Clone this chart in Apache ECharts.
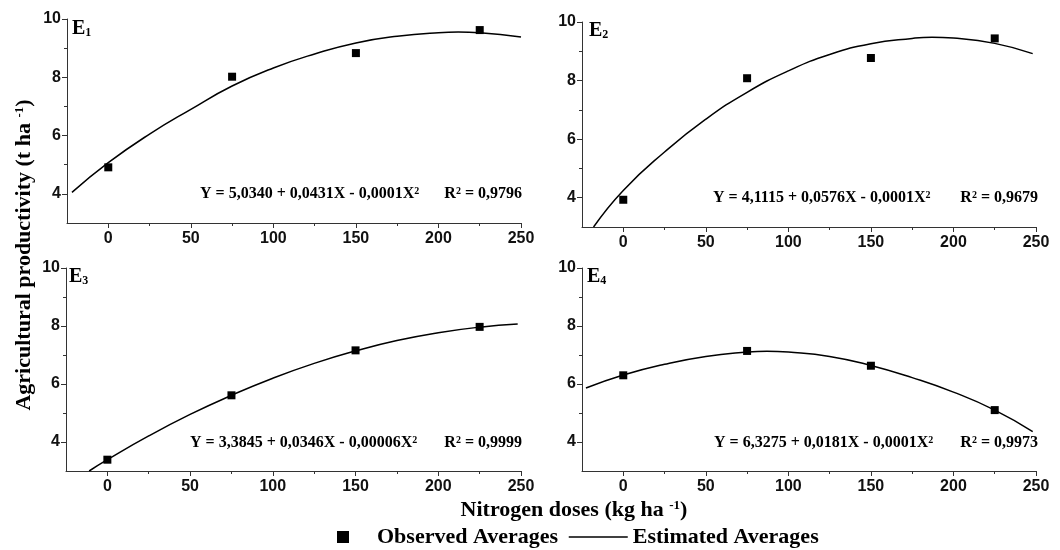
<!DOCTYPE html>
<html><head><meta charset="utf-8">
<script src="https://cdn.jsdelivr.net/npm/echarts@6/dist/echarts.min.js"></script>
<style>html,body{margin:0;padding:0;background:#fff}#c{width:1060px;height:550px}</style>
</head><body><div id="c"></div>
<script>
// ---------- data ----------
const doses = [0, 75, 150, 225];
const observedE1 = [4.91, 8.02, 8.83, 9.62];
const observedE2 = [3.93, 8.08, 8.77, 9.44];
const observedE3 = [3.39, 5.61, 7.16, 7.97];
const observedE4 = [6.30, 7.14, 6.63, 5.10];

const curveXE1 = [-22, 0, 25, 50, 75, 100, 125, 150, 175, 200, 212, 225, 250];
const curveYE1 = [4.05, 5.07, 6.05, 6.9, 7.7, 8.32, 8.8, 9.18, 9.41, 9.53, 9.55, 9.53, 9.38];
const curveXE2 = [-18, 0, 25, 50, 75, 100, 125, 150, 175, 187, 200, 225, 248];
const curveYE2 = [3.0, 4.25, 5.56, 6.68, 7.6, 8.33, 8.89, 9.26, 9.44, 9.48, 9.45, 9.27, 8.92];
const curveXE3 = [-11, 0, 25, 50, 75, 100, 125, 150, 175, 200, 225, 248];
const curveYE3 = [3.0, 3.39, 4.21, 4.95, 5.61, 6.2, 6.71, 7.14, 7.5, 7.77, 7.96, 8.07];
const curveXE4 = [-22.6, 0, 25, 50, 75, 87, 100, 125, 150, 175, 200, 225, 248];
const curveYE4 = [5.86, 6.31, 6.68, 6.95, 7.1, 7.13, 7.1, 6.95, 6.64, 6.22, 5.72, 5.1, 4.36];

const xTicks = [0, 50, 100, 150, 200, 250];
const xMinorTicks = [25, 75, 125, 175, 225];
const yTicks = [4, 6, 8, 10];
const yMinorTicks = [5, 7, 9];

const panelSubs = ['1', '2', '3', '4'];
const equations = [
  'Y = 5,0340 + 0,0431X - 0,0001X',
  'Y = 4,1115 + 0,0576X - 0,0001X',
  'Y = 3,3845 + 0,0346X - 0,00006X',
  'Y = 6,3275 + 0,0181X - 0,0001X'
];
const r2Values = ['0,9796', '0,9679', '0,9999', '0,9973'];
const seriesObserved = 'Observed Averages';
const seriesEstimated = 'Estimated Averages';
const yTitle = 'Agricultural productivity (t ha ';
const xTitle = 'Nitrogen doses (kg ha ';

// ---------- layout ----------
const grids = [
  {left: 67, top: 19, width: 454, height: 204},
  {left: 582, top: 22, width: 454, height: 205},
  {left: 66, top: 268, width: 455, height: 203},
  {left: 582, top: 268, width: 454, height: 203}
];
const eqPos = [
  {x: 200, rx: 522, y: 194},
  {x: 713, rx: 1038, y: 198},
  {x: 190, rx: 522, y: 443},
  {x: 714, rx: 1038, y: 443}
];
const labelPos = [
  {x: 72, y: 29}, {x: 589, y: 31}, {x: 69, y: 277}, {x: 587, y: 277}
];

const observed = [observedE1, observedE2, observedE3, observedE4];
const curvesX = [curveXE1, curveXE2, curveXE3, curveXE4];
const curvesY = [curveYE1, curveYE2, curveYE3, curveYE4];

const AX = '#333';
const sans = '"Liberation Sans", Arial, sans-serif';
const serif = '"Liberation Serif", "Times New Roman", serif';

const xAxes = [], yAxes = [], series = [];
grids.forEach((g, i) => {
  xAxes.push({
    type: 'value', gridIndex: i, min: -25, max: 250, position: 'bottom',
    axisLine: {show: true, onZero: false, lineStyle: {color: AX, width: 1}},
    axisTick: {show: true, length: 5, customValues: xTicks, lineStyle: {color: AX}},
    axisLabel: {show: true, customValues: xTicks, fontFamily: sans, fontWeight: 'bold', fontSize: 16, color: '#111', margin: 8},
    splitLine: {show: false}
  });
  xAxes.push({
    type: 'value', gridIndex: i, min: -25, max: 250, position: 'bottom',
    axisLine: {show: false, onZero: false},
    axisTick: {show: true, length: 3, customValues: xMinorTicks, lineStyle: {color: AX}},
    axisLabel: {show: false}, splitLine: {show: false}
  });
  yAxes.push({
    type: 'value', gridIndex: i, min: 3, max: 10, position: 'left',
    axisLine: {show: true, onZero: false, lineStyle: {color: AX, width: 1}},
    axisTick: {show: true, length: 5, customValues: yTicks, lineStyle: {color: AX}},
    axisLabel: {show: true, customValues: yTicks, fontFamily: sans, fontWeight: 'bold', fontSize: 16, color: '#111', margin: 6},
    splitLine: {show: false}
  });
  yAxes.push({
    type: 'value', gridIndex: i, min: 3, max: 10, position: 'left', offset: 0,
    axisLine: {show: false, onZero: false},
    axisTick: {show: true, length: 3, customValues: yMinorTicks, lineStyle: {color: AX}},
    axisLabel: {show: false}, splitLine: {show: false}
  });
  series.push({
    name: seriesEstimated, type: 'line', xAxisIndex: 2 * i, yAxisIndex: 2 * i,
    data: curvesX[i].map((x, k) => [x, curvesY[i][k]]),
    smooth: true, symbol: 'none', showSymbol: false,
    lineStyle: {color: '#000', width: 1.5}, itemStyle: {color: '#000'},
    silent: true, z: 2
  });
  series.push({
    name: seriesObserved, type: 'scatter', xAxisIndex: 2 * i, yAxisIndex: 2 * i,
    data: doses.map((d, k) => [d, observed[i][k]]),
    symbol: 'rect', symbolSize: 8, itemStyle: {color: '#000', opacity: 1}, z: 3
  });
});

const sup = {font: 'bold 10px ' + serif, verticalAlign: 'top', lineHeight: 10, fill: '#000'};
const graphics = [];
grids.forEach((g, i) => {
  graphics.push({
    type: 'text', x: eqPos[i].x, y: eqPos[i].y, silent: true,
    style: {
      text: equations[i] + '{sup|2}',
      font: 'bold 16px ' + serif, fill: '#000',
      align: 'left', verticalAlign: 'middle', textAlign: 'left', textVerticalAlign: 'middle',
      rich: {sup: sup}
    }
  });
  graphics.push({
    type: 'text', x: eqPos[i].rx, y: eqPos[i].y, silent: true,
    style: {
      text: 'R{sup|2} = ' + r2Values[i],
      font: 'bold 16px ' + serif, fill: '#000',
      align: 'right', verticalAlign: 'middle', textAlign: 'right', textVerticalAlign: 'middle',
      rich: {sup: sup}
    }
  });
  graphics.push({
    type: 'text', x: labelPos[i].x, y: labelPos[i].y, silent: true,
    style: {
      text: 'E{sub|' + panelSubs[i] + '}',
      font: 'bold 20px ' + serif, fill: '#000',
      align: 'left', verticalAlign: 'middle', textAlign: 'left', textVerticalAlign: 'middle',
      rich: {sub: {font: 'bold 12px ' + serif, verticalAlign: 'bottom', lineHeight: 12, fill: '#000'}}
    }
  });
});
const supBig = {font: 'bold 13px ' + serif, verticalAlign: 'top', lineHeight: 13, fill: '#000'};
graphics.push({
  type: 'text', x: 24, y: 255, rotation: Math.PI / 2, silent: true,
  style: {
    text: yTitle + '{sup|-1}' + ')',
    font: 'bold 22px ' + serif, fill: '#000',
    align: 'center', verticalAlign: 'middle', textAlign: 'center', textVerticalAlign: 'middle',
    rich: {sup: supBig}
  }
});
graphics.push({
  type: 'text', x: 574, y: 510, silent: true,
  style: {
    text: xTitle + '{sup|-1}' + ')',
    font: 'bold 22px ' + serif, fill: '#000',
    align: 'center', verticalAlign: 'middle', textAlign: 'center', textVerticalAlign: 'middle',
    rich: {sup: supBig}
  }
});

const chart = echarts.init(document.getElementById('c'), null, {renderer: 'canvas'});
chart.setOption({
  animation: false,
  backgroundColor: '#fff',
  grid: grids.map(g => Object.assign({containLabel: false}, g)),
  xAxis: xAxes,
  yAxis: yAxes,
  series: series,
  legend: [
    {
      data: [seriesObserved], left: 337, top: 526, padding: 0,
      itemWidth: 12, itemHeight: 12, selectedMode: false,
      itemStyle: {color: '#000', opacity: 1},
      textStyle: {fontFamily: serif, fontWeight: 'bold', fontSize: 22, color: '#000', padding: [0, 0, 0, 23]}
    },
    {
      data: [seriesEstimated], left: 568, top: 526, padding: 0,
      itemWidth: 59, itemHeight: 14, selectedMode: false,
      itemStyle: {opacity: 0},
      lineStyle: {color: '#000', width: 1.5},
      textStyle: {fontFamily: serif, fontWeight: 'bold', fontSize: 22, color: '#000'}
    }
  ],
  graphic: graphics
});
</script>
</body></html>
